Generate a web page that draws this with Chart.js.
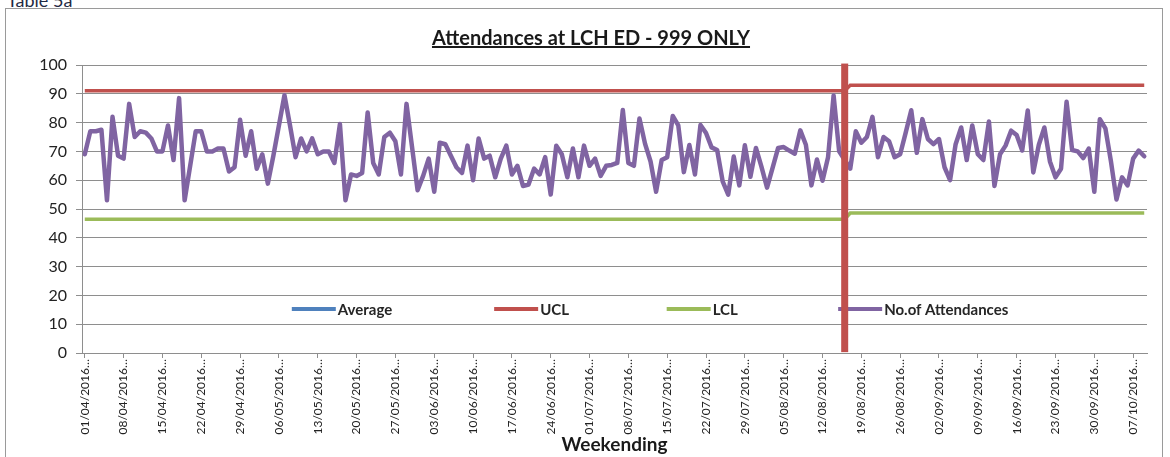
<!DOCTYPE html>
<html>
<head>
<meta charset="utf-8">
<script src="https://cdn.jsdelivr.net/npm/chart.js@4.4.1/dist/chart.umd.min.js"></script>
<style>
  html, body { margin: 0; padding: 0; background: #ffffff; }
  #wrap { position: relative; width: 1170px; height: 457px; overflow: hidden; background: #fff; }
  #frame { position: absolute; left: 5px; top: 8px; width: 1158px; height: 470px; border: 1px solid #9a9a9a; box-sizing: border-box; }
  #tableLabel { position: absolute; left: 7px; top: -9px; font-family: Lato, sans-serif; font-size: 18px; line-height: 18px; color: #1f2a44; }
  #title { position: absolute; left: 0; width: 1182px; top: 26px; text-align: center; font-family: Lato, sans-serif; font-weight: bold; font-size: 20px; line-height: 22px; color: #1a1a1a; text-decoration: underline; }
  canvas { position: absolute; left: 0; top: 0; }
</style>
</head>
<body>
<div id="wrap">
  <div id="frame"></div>
  <div id="tableLabel">Table 5a</div>
  <canvas id="c" width="1170" height="457"></canvas>
  <div id="title">Attendances at LCH ED - 999 ONLY</div>
</div>
<script>
// ---------------- DATA ----------------
const startDate = '01/04/2016';           // first day of the series
const labelEvery = 7;                      // a tick label every 7 days

const attendances = [
  69, 77, 77, 77.5, 53, 82, 68.5, 67.5, 86.5, 75,
  77, 76.5, 74.5, 70, 70, 79, 67, 88.5, 53, 65,
  77, 77, 70, 70, 71, 71, 63, 64.5, 81, 68.5,
  77, 64, 69, 58.8, 68.5, 79, 89.5, 79, 68, 74.5,
  70, 74.5, 69, 70, 70, 66, 79.5, 53, 62, 61.5,
  62.5, 83.5, 66, 62, 75, 76.5, 73.5, 62, 86.5, 71.5,
  56.5, 61.5, 67.5, 56, 73, 72.5, 68.5, 64.5, 62.5, 72,
  60, 74.5, 67.5, 68.5, 61, 67.5, 72, 62, 65, 58,
  58.5, 64, 62, 68, 55, 72, 69, 61, 71, 61,
  72, 65, 67.5, 61.5, 65, 65.3, 66, 84.4, 66, 65,
  81.4, 72.7, 66.5, 56, 67, 68, 82.3, 79, 62.8, 72.2,
  62, 79.2, 76.4, 71.4, 70.5, 59.6, 55, 68.2, 58.2, 72.1,
  61.2, 71.2, 64.6, 57.4, 64.3, 71.2, 71.5, 70.3, 69.2, 77.3,
  72.3, 58.2, 67.2, 59.8, 68, 89.4, 70, 67, 64, 77,
  73, 75, 82, 68, 75, 73.5, 68, 69, 76.5, 84.3,
  69.5, 81.2, 74.3, 72.5, 74.3, 64.5, 60, 72.5, 78.3, 67,
  79, 69, 67, 80.4, 58, 69, 72, 77.2, 75.7, 70.3,
  84.2, 62.7, 72.3, 78.3, 66.5, 61, 64, 87.2, 70.5, 70,
  67.7, 71, 56, 81.2, 78, 66.5, 53.3, 61, 58.2, 67.5,
  70.3, 68.3
];

const uclLevels = [91.1, 93.0];            // before / after the change point
const lclLevels = [46.4, 48.6];
const limitChangeIndex = 137;              // 16/08/2016 - vertical marker
const yTicks = [0, 10, 20, 30, 40, 50, 60, 70, 80, 90, 100];

const seriesNames = ['Average', 'UCL', 'LCL', 'No.of Attendances'];
const seriesColors = ['#4F81BD', '#C0504D', '#9BBB59', '#8064A2'];

// ---------------- BUILD ----------------
function buildDates(start, n) {
  const [d, m, y] = start.split('/').map(Number);
  const out = [];
  for (let i = 0; i < n; i++) {
    const dt = new Date(Date.UTC(y, m - 1, d + i));
    const dd = String(dt.getUTCDate()).padStart(2, '0');
    const mm = String(dt.getUTCMonth() + 1).padStart(2, '0');
    out.push(dd + '/' + mm + '/' + dt.getUTCFullYear());
  }
  return out;
}
const categories = buildDates(startDate, attendances.length);
const uclValues = categories.map((_, i) => i <= limitChangeIndex ? uclLevels[0] : uclLevels[1]);
const lclValues = categories.map((_, i) => i <= limitChangeIndex ? lclLevels[0] : lclLevels[1]);
const averageValues = categories.map(() => null);

const FONT = 'Lato, "Open Sans", sans-serif';
const GRID = '#8e8e8e';

const markerPlugin = {
  id: 'markerAndLegend',
  afterDatasetsDraw(chart) {
    const { ctx, chartArea, scales } = chart;
    // legend inside plot area
    const fr = [0.197, 0.387, 0.549, 0.710];
    const ly = chartArea.top + 0.847 * (chartArea.bottom - chartArea.top);
    ctx.save();
    ctx.font = 'bold 15px ' + FONT;
    ctx.textBaseline = 'middle';
    ctx.textAlign = 'left';
    seriesNames.forEach((name, k) => {
      const x0 = chartArea.left + fr[k] * (chartArea.right - chartArea.left);
      ctx.strokeStyle = seriesColors[k];
      ctx.lineWidth = 4;
      ctx.lineCap = 'butt';
      ctx.beginPath();
      ctx.moveTo(x0, ly);
      ctx.lineTo(x0 + 44, ly);
      ctx.stroke();
      ctx.fillStyle = '#262626';
      ctx.fillText(name, x0 + 46, ly + 1);
    });
    // vertical change-point marker
    const x = scales.x.getPixelForValue(limitChangeIndex);
    const yTop = scales.y.getPixelForValue(100.5);
    const yBot = scales.y.getPixelForValue(0.3);
    ctx.fillStyle = '#C0504D';
    ctx.fillRect(x - 3.5, yTop, 7, yBot - yTop);
    ctx.restore();
  }
};

new Chart(document.getElementById('c'), {
  type: 'line',
  data: {
    labels: categories,
    datasets: [
      { label: seriesNames[0], data: averageValues, borderColor: seriesColors[0], borderWidth: 3.5, order: 4 },
      { label: seriesNames[1], data: uclValues, borderColor: seriesColors[1], borderWidth: 3.5, order: 3 },
      { label: seriesNames[2], data: lclValues, borderColor: seriesColors[2], borderWidth: 3.5, order: 2 },
      { label: seriesNames[3], data: attendances, borderColor: seriesColors[3], borderWidth: 4.5,
        borderJoinStyle: 'round', borderCapStyle: 'round', order: 1 }
    ]
  },
  options: {
    responsive: false,
    animation: false,
    events: [],
    layout: { padding: { top: 65, right: 23, left: 0, bottom: 0 } },
    elements: { point: { radius: 0 }, line: { tension: 0, fill: false } },
    plugins: { legend: { display: false }, title: { display: false }, tooltip: { enabled: false } },
    scales: {
      x: {
        offset: true,
        grid: { display: true, drawOnChartArea: false, drawTicks: true, tickLength: 5, color: GRID, offset: false },
        border: { display: true, color: GRID, width: 1 },
        ticks: {
          autoSkip: false, maxRotation: 90, minRotation: 90, padding: 1,
          color: '#222', font: { family: FONT, size: 12 },
          callback: (v, i) => (i % labelEvery === 0 ? categories[i] + '\u2026' : null)
        },
        title: { display: true, text: 'Weekending', color: '#1a1a1a', font: { family: FONT, size: 19, weight: 'bold' }, padding: { top: 0, bottom: 1 } },
        afterFit: (s) => { s.height = 104; }
      },
      y: {
        min: 0, max: 100,
        afterBuildTicks: (s) => { s.ticks = yTicks.map(v => ({ value: v })); },
        grid: { color: GRID, tickLength: 6, drawTicks: true },
        border: { display: true, color: GRID, width: 1 },
        ticks: { color: '#222', padding: 9, font: { family: FONT, size: 16 } },
        afterFit: (s) => { s.width = 82; }
      }
    }
  },
  plugins: [markerPlugin]
});
</script>
</body>
</html>
